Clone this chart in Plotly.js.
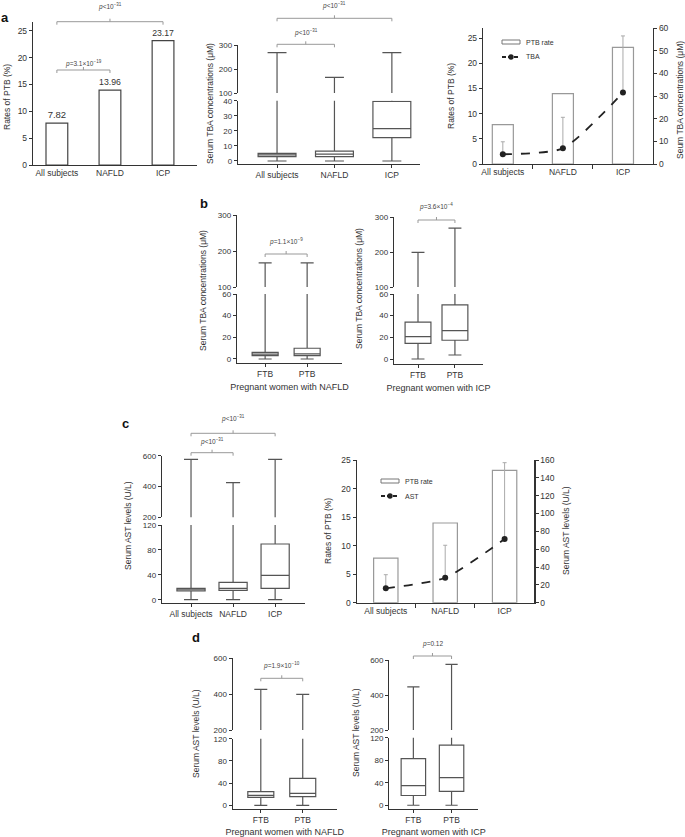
<!DOCTYPE html>
<html>
<head>
<meta charset="utf-8">
<script src="https://cdn.plot.ly/plotly-3.0.1.min.js"></script>
<style>html,body{margin:0;padding:0;background:#fff;}#chart{width:685px;height:837px;}</style>
</head>
<body>
<div id="chart"></div>
<script>
// ---------------- DATA ----------------
const groups3 = ['All subjects', 'NAFLD', 'ICP'];
const groups2 = ['FTB', 'PTB'];

// PTB rates (%)
const ptbRate = [7.82, 13.96, 23.17];
const ptbLabels = ['7.82', '13.96', '23.17'];

// TBA mean and upper error (right axis of panel a)
const tbaMean = [4.3, 6.9, 31.5];
const tbaErrPlus = [5.5, 13.7, 25.0];

// AST mean and upper error (right axis of panel c)
const astMean = [16.1, 28.0, 71.4];
const astErrPlus = [15.3, 36.4, 85.6];

// Panel a: serum TBA by group (box summaries)
const tbaGrpLow = [0, 0, 0];
const tbaGrpQ1 = [2.9, 2.9, 15.5];
const tbaGrpMed = [4.0, 4.6, 21.5];
const tbaGrpQ3 = [5.1, 6.6, 39.5];
const tbaGrpHigh = [268, 165, 268];

// Panel b: TBA, NAFLD FTB/PTB
const tbaNafldLow = [0, 0];
const tbaNafldQ1 = [3.1, 3.1];
const tbaNafldMed = [4.5, 4.8];
const tbaNafldQ3 = [6.2, 9.9];
const tbaNafldHigh = [167, 167];

// Panel b: TBA, ICP FTB/PTB
const tbaIcpLow = [0, 3.7];
const tbaIcpQ1 = [14.5, 17.3];
const tbaIcpMed = [20.6, 26.2];
const tbaIcpQ3 = [34, 50];
const tbaIcpHigh = [199, 268];

// Panel c: AST by group
const astGrpLow = [0, 0, 0];
const astGrpQ1 = [14, 15, 18.3];
const astGrpMed = [16, 18.3, 39];
const astGrpQ3 = [18.3, 28, 89.5];
const astGrpHigh = [576, 425, 576];

// Panel d: AST, NAFLD FTB/PTB
const astNafldLow = [0, 0];
const astNafldQ1 = [14.4, 15.5];
const astNafldMed = [18, 21.6];
const astNafldQ3 = [24.5, 48.6];
const astNafldHigh = [427, 399];

// Panel d: AST, ICP FTB/PTB
const astIcpLow = [0, 0];
const astIcpQ1 = [17.3, 24.5];
const astIcpMed = [34.8, 49.2];
const astIcpQ3 = [82.9, 106.8];
const astIcpHigh = [447, 575];

// ---------------- LAYOUT HELPERS ----------------
const W = 685, H = 837;
const FONT = 'Liberation Sans, Arial, sans-serif';
const px = v => v / W;
const py = v => 1 - v / H;
const xdom = (l, r) => [px(l), px(r)];
const ydom = (bot, top) => [py(bot), py(top)];

const axBase = {
  showline: true, linecolor: '#333', linewidth: 1.2,
  ticks: 'outside', ticklen: 3, tickwidth: 1, tickcolor: '#333',
  tickfont: {family: FONT, size: 8.5, color: '#333'},
  showgrid: false, zeroline: false, fixedrange: true
};
function xa(dom, range, anchor, extra) {
  return Object.assign({}, axBase, {type: 'category', domain: dom, range: range, anchor: anchor}, extra || {});
}
function ya(dom, range, anchor, tickvals, extra) {
  return Object.assign({}, axBase, {domain: dom, range: range, anchor: anchor, tickvals: tickvals}, extra || {});
}

function boxTrace(xaId, yaId, cats, lo, q1, med, q3, hi, width) {
  return {
    type: 'box', x: cats, lowerfence: lo, q1: q1, median: med, q3: q3, upperfence: hi,
    xaxis: xaId, yaxis: yaId, width: width, whiskerwidth: 0.5,
    fillcolor: 'white', line: {color: '#555', width: 1.2},
    boxpoints: false, showlegend: false, hoverinfo: 'skip'
  };
}

const traces = [];

// a-left: bars
traces.push({
  type: 'bar', x: groups3, y: ptbRate, xaxis: 'x', yaxis: 'y', width: 0.41,
  marker: {color: 'white', line: {color: '#444', width: 1.2}},
  text: ptbLabels, textposition: 'outside', cliponaxis: false,
  textfont: {family: FONT, size: 9.5, color: '#333'},
  showlegend: false, hoverinfo: 'skip'
});

// a-middle boxes (lower + upper segments)
traces.push(boxTrace('x2', 'y2', groups3, tbaGrpLow, tbaGrpQ1, tbaGrpMed, tbaGrpQ3, tbaGrpHigh, 0.66));
traces.push(boxTrace('x2', 'y3', groups3, tbaGrpLow, tbaGrpQ1, tbaGrpMed, tbaGrpQ3, tbaGrpHigh, 0.66));

// a-right combo
traces.push({
  type: 'bar', x: groups3, y: ptbRate, xaxis: 'x3', yaxis: 'y4', width: 0.35, name: 'PTB rate',
  marker: {color: 'white', line: {color: '#999', width: 1.2}}, showlegend: false, hoverinfo: 'skip'
});
traces.push({
  type: 'scatter', mode: 'lines+markers', x: groups3, y: tbaMean, xaxis: 'x3', yaxis: 'y5', name: 'TBA',
  line: {color: '#222', width: 1.8, dash: 'dash', shape: 'spline', smoothing: 0.6},
  marker: {color: '#222', size: 6},
  error_y: {type: 'data', symmetric: false, array: tbaErrPlus, arrayminus: [0, 0, 0], color: '#aaa', thickness: 1, width: 2},
  showlegend: false, hoverinfo: 'skip'
});

// b-left
traces.push(boxTrace('x4', 'y6', groups2, tbaNafldLow, tbaNafldQ1, tbaNafldMed, tbaNafldQ3, tbaNafldHigh, 0.62));
traces.push(boxTrace('x4', 'y7', groups2, tbaNafldLow, tbaNafldQ1, tbaNafldMed, tbaNafldQ3, tbaNafldHigh, 0.62));
// b-right
traces.push(boxTrace('x5', 'y8', groups2, tbaIcpLow, tbaIcpQ1, tbaIcpMed, tbaIcpQ3, tbaIcpHigh, 0.7));
traces.push(boxTrace('x5', 'y9', groups2, tbaIcpLow, tbaIcpQ1, tbaIcpMed, tbaIcpQ3, tbaIcpHigh, 0.7));

// c-left
traces.push(boxTrace('x6', 'y10', groups3, astGrpLow, astGrpQ1, astGrpMed, astGrpQ3, astGrpHigh, 0.67));
traces.push(boxTrace('x6', 'y11', groups3, astGrpLow, astGrpQ1, astGrpMed, astGrpQ3, astGrpHigh, 0.67));

// c-right combo
traces.push({
  type: 'bar', x: groups3, y: ptbRate, xaxis: 'x7', yaxis: 'y12', width: 0.41, name: 'PTB rate',
  marker: {color: 'white', line: {color: '#999', width: 1.2}}, showlegend: false, hoverinfo: 'skip'
});
traces.push({
  type: 'scatter', mode: 'lines+markers', x: groups3, y: astMean, xaxis: 'x7', yaxis: 'y13', name: 'AST',
  line: {color: '#222', width: 1.8, dash: 'dash', shape: 'spline', smoothing: 0.6},
  marker: {color: '#222', size: 6},
  error_y: {type: 'data', symmetric: false, array: astErrPlus, arrayminus: [0, 0, 0], color: '#aaa', thickness: 1, width: 2},
  showlegend: false, hoverinfo: 'skip'
});

// d-left
traces.push(boxTrace('x8', 'y14', groups2, astNafldLow, astNafldQ1, astNafldMed, astNafldQ3, astNafldHigh, 0.62));
traces.push(boxTrace('x8', 'y15', groups2, astNafldLow, astNafldQ1, astNafldMed, astNafldQ3, astNafldHigh, 0.62));
// d-right
traces.push(boxTrace('x9', 'y16', groups2, astIcpLow, astIcpQ1, astIcpMed, astIcpQ3, astIcpHigh, 0.64));
traces.push(boxTrace('x9', 'y17', groups2, astIcpLow, astIcpQ1, astIcpMed, astIcpQ3, astIcpHigh, 0.64));

// ---------------- AXES ----------------
const xTitle = t => ({text: t, font: {family: FONT, size: 9, color: '#333'}, standoff: 5});
const brk = {tickfont: {family: FONT, size: 8, color: '#333'}};
const layout = {
  width: W, height: H, margin: {l: 0, r: 0, t: 0, b: 0},
  paper_bgcolor: 'white', plot_bgcolor: 'rgba(0,0,0,0)',
  font: {family: FONT, color: '#333'},
  showlegend: false,
  hovermode: false,
  // a-left
  xaxis: xa(xdom(33, 197), [-0.45, 2.64], 'y', {ticks: ''}),
  yaxis: ya(ydom(165, 21.7), [0, 26.7], 'x', [0, 5, 10, 15, 20, 25]),
  // a-middle
  xaxis2: xa(xdom(238, 420), [-0.68, 2.49], 'y2'),
  yaxis2: ya(ydom(164, 100.7), [-2, 40], 'x2', [0, 10, 20, 30, 40], brk),
  yaxis3: ya(ydom(93, 45), [100, 300], 'x2', [100, 200, 300], brk),
  // a-right
  xaxis3: xa(xdom(483, 653), [-0.33, 2.5], 'y4', {tickson: 'boundaries', ticklen: 4}),
  yaxis4: ya(ydom(164, 28), [0, 27], 'x3', [0, 5, 10, 15, 20, 25]),
  yaxis5: Object.assign({}, axBase, {overlaying: 'y4', side: 'right', anchor: 'x3', range: [0, 60], tickvals: [0, 10, 20, 30, 40, 50, 60]}),
  // b-left
  xaxis4: xa(xdom(237, 342), [-0.67, 1.83], 'y6', {title: xTitle('Pregnant women with NAFLD')}),
  yaxis6: ya(ydom(363, 294), [-3.7, 60], 'x4', [0, 20, 40, 60], brk),
  yaxis7: ya(ydom(287, 215), [100, 300], 'x4', [100, 200, 300], brk),
  // b-right
  xaxis5: xa(xdom(394, 483), [-0.65, 1.76], 'y8', {title: xTitle('Pregnant women with ICP')}),
  yaxis8: ya(ydom(364, 294), [-4.6, 60], 'x5', [0, 20, 40, 60], brk),
  yaxis9: ya(ydom(287, 217), [100, 300], 'x5', [100, 200, 300], brk),
  // c-left
  xaxis6: xa(xdom(162, 305), [-0.69, 2.71], 'y10'),
  yaxis10: ya(ydom(602.7, 525), [-4.8, 120], 'x6', [0, 40, 80, 120], brk),
  yaxis11: ya(ydom(517.3, 455.7), [200, 600], 'x6', [200, 400, 600], brk),
  // c-right
  xaxis7: xa(xdom(356.7, 534.3), [-0.49, 2.5], 'y12', {tickson: 'boundaries', ticklen: 4}),
  yaxis12: ya(ydom(602.7, 460), [0, 25], 'x7', [0, 5, 10, 15, 20, 25]),
  yaxis13: Object.assign({}, axBase, {overlaying: 'y12', side: 'right', anchor: 'x7', range: [0, 160], tickvals: [0, 20, 40, 60, 80, 100, 120, 140, 160]}),
  // d-left
  xaxis8: xa(xdom(232.7, 336.7), [-0.67, 1.81], 'y14', {title: xTitle('Pregnant women with NAFLD')}),
  yaxis14: ya(ydom(808.7, 738.7), [-6.1, 120], 'x8', [0, 40, 80, 120], brk),
  yaxis15: ya(ydom(730, 658.3), [200, 600], 'x8', [200, 400, 600], brk),
  // d-right
  xaxis9: xa(xdom(389.3, 478.3), [-0.63, 1.7], 'y16', {title: xTitle('Pregnant women with ICP')}),
  yaxis16: ya(ydom(808.7, 737.7), [-6.1, 120], 'x9', [0, 40, 80, 120], brk),
  yaxis17: ya(ydom(730, 660), [200, 600], 'x9', [200, 400, 600], brk),
  shapes: [],
  annotations: []
};

// ---------------- BRACKETS & P-VALUES ----------------
function bracket(xref, x0, x1, yLine, yText, label) {
  const c = '#999', w = 1;
  const yl = py(yLine), yd = py(yLine + 3), yu = py(yLine - 3);
  const xm = (x0 + x1) / 2;
  const ln = (a, b, c1, d) => ({type: 'line', xref: xref, yref: 'paper', x0: a, x1: b, y0: c1, y1: d, line: {color: c, width: w}});
  layout.shapes.push(ln(x0, x1, yl, yl), ln(x0, x0, yl, yd), ln(x1, x1, yl, yd), ln(xm, xm, yl, yu));
  layout.annotations.push({xref: xref, yref: 'paper', x: xm, y: py(yText), text: label, showarrow: false,
    font: {family: FONT, size: 6.5, color: '#444'}, xanchor: 'center', yanchor: 'middle'});
}
const pLt31 = '<i>p</i>&lt;10<sup>−31</sup>';
bracket('x', 0, 1, 70, 63, '<i>p</i>=3.1×10<sup>−19</sup>');
bracket('x', 0, 2, 21.7, 6.5, pLt31);
bracket('x2', 0, 1, 44.3, 32.3, pLt31);
bracket('x2', 0, 2, 18.3, 5, pLt31);
bracket('x4', 0, 1, 254, 241.7, '<i>p</i>=1.1×10<sup>−9</sup>');
bracket('x5', 0, 1, 220, 206.7, '<i>p</i>=3.6×10<sup>−4</sup>');
bracket('x6', 0, 1, 452.7, 441.7, pLt31);
bracket('x6', 0, 2, 433.3, 418.3, pLt31);
bracket('x8', 0, 1, 678.3, 665, '<i>p</i>=1.9×10<sup>−10</sup>');
bracket('x9', 0, 1, 656, 644, '<i>p</i>=0.12');

// ---------------- TEXT ANNOTATIONS ----------------
function ann(x, y, text, opts) {
  layout.annotations.push(Object.assign({xref: 'paper', yref: 'paper', x: px(x), y: py(y), text: text, showarrow: false,
    xanchor: 'center', yanchor: 'middle', font: {family: FONT, size: 8.5, color: '#333'}}, opts || {}));
}
const vt = {textangle: -90};
// panel letters
const bold = {font: {family: FONT, size: 13, color: '#111', weight: 'bold'}};
ann(5, 17, '<b>a</b>', bold);
ann(204, 203, '<b>b</b>', bold);
ann(126, 423, '<b>c</b>', bold);
ann(196, 637, '<b>d</b>', bold);
// y titles
ann(7, 97, 'Rates of PTB (%)', vt);
ann(210, 104, 'Serum TBA concentrations (μM)', vt);
ann(451, 96, 'Rates of PTB (%)', vt);
ann(680, 100, 'Seum TBA concentrations (μM)', vt);
ann(203, 291, 'Serum TBA concentrations (μM)', vt);
ann(359, 289, 'Serum TBA concentrations (μM)', vt);
ann(128, 525, 'Serum AST levels (U/L)', vt);
ann(328, 531, 'Rates of PTB (%)', vt);
ann(566, 531, 'Serum AST levels (U/L)', vt);
ann(196, 733, 'Serum AST levels (U/L)', vt);
ann(356, 733, 'Serum AST levels (U/L)', vt);

// ---------------- CUSTOM LEGENDS ----------------
function legendBlock(x0, yTop, name2) {
  const x1 = x0 + 18, yB = yTop + 15, xm = (x0 + x1) / 2;
  layout.shapes.push({type: 'rect', xref: 'paper', yref: 'paper', x0: px(x0), x1: px(x1), y0: py(yTop + 2), y1: py(yTop - 2),
    line: {color: '#777', width: 1}, fillcolor: 'white'});
  layout.shapes.push({type: 'line', xref: 'paper', yref: 'paper', x0: px(x0), x1: px(x1), y0: py(yB), y1: py(yB),
    line: {color: '#222', width: 1.8, dash: '4px,2px'}});
  layout.shapes.push({type: 'circle', xref: 'paper', yref: 'paper', x0: px(xm - 2.7), x1: px(xm + 2.7), y0: py(yB + 2.7), y1: py(yB - 2.7),
    line: {color: '#222', width: 0}, fillcolor: '#222'});
  ann(x0 + 22, yTop, 'PTB rate', {xanchor: 'left', font: {family: FONT, size: 7, color: '#333'}});
  ann(x0 + 22, yB, name2, {xanchor: 'left', font: {family: FONT, size: 7, color: '#333'}});
}
legendBlock(502, 42, 'TBA');
legendBlock(381, 481, 'AST');

Plotly.newPlot('chart', traces, layout, {staticPlot: true, displayModeBar: false});
</script>
</body>
</html>
